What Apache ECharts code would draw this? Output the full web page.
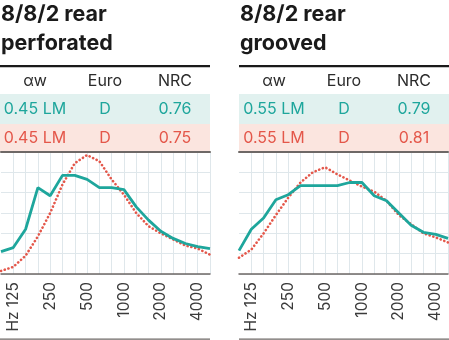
<!DOCTYPE html>
<html>
<head>
<meta charset="utf-8">
<script src="https://cdn.jsdelivr.net/npm/echarts@6/dist/echarts.min.js"></script>
<style>
  html, body { margin: 0; padding: 0; background: #ffffff; }
  #chart { width: 449px; height: 340px; }
</style>
</head>
<body>
<div id="chart"></div>
<script>
// One-third-octave band centre frequencies (Hz)
const frequencies = ['100', '125', '160', '200', '250', '315', '400', '500', '630',
  '800', '1000', '1250', '1600', '2000', '2500', '3150', '4000', '5000'];

// Octave labels shown under each plot
const tickLabels = { '125': 'Hz 125', '250': '250', '500': '500', '1000': '1000', '2000': '2000', '4000': '4000' };

// Panel titles
const panelTitles = [['8/8/2 rear', 'perforated'], ['8/8/2 rear', 'grooved']];

// Rating table
const tableHeader = ['\u03b1w', 'Euro', 'NRC'];
const perforatedTealRow = ['0.45 LM', 'D', '0.76'];
const perforatedRedRow = ['0.45 LM', 'D', '0.75'];
const groovedTealRow = ['0.55 LM', 'D', '0.79'];
const groovedRedRow = ['0.55 LM', 'D', '0.81'];

// Sound absorption coefficients per band
const perforatedTeal = [0.22, 0.26, 0.44, 0.85, 0.77, 0.97, 0.97, 0.93, 0.85,
  0.85, 0.83, 0.66, 0.53, 0.42, 0.35, 0.30, 0.27, 0.25];
const perforatedRed = [0.03, 0.07, 0.18, 0.37, 0.60, 0.88, 1.09, 1.17, 1.11,
  0.93, 0.78, 0.60, 0.47, 0.40, 0.34, 0.28, 0.25, 0.19];
const groovedTeal = [0.23, 0.44, 0.55, 0.73, 0.78, 0.87, 0.87, 0.87, 0.87,
  0.90, 0.90, 0.77, 0.72, 0.60, 0.48, 0.41, 0.39, 0.35];
const groovedRed = [0.16, 0.24, 0.40, 0.58, 0.75, 0.90, 1.00, 1.05, 0.98,
  0.92, 0.86, 0.81, 0.72, 0.58, 0.49, 0.40, 0.36, 0.31];

const TEAL = '#1ea69c';
const RED = '#e4574a';
const TEAL_BG = '#e1f1ef';
const RED_BG = '#fbe5df';
const TEXT_FONT = 'Inter, "Open Sans", sans-serif';

const panels = [
  { left: 1, width: 209, boxLeft: 0, boxWidth: 210, teal: perforatedTeal, red: perforatedRed,
    tealRow: perforatedTealRow, redRow: perforatedRedRow, title: panelTitles[0] },
  { left: 239, width: 209, boxLeft: 239, boxWidth: 210, teal: groovedTeal, red: groovedRed,
    tealRow: groovedTealRow, redRow: groovedRedRow, title: panelTitles[1] }
];

const grids = [], xAxes = [], yAxes = [], series = [], graphics = [];

panels.forEach((p, i) => {
  grids.push({ left: p.left, width: p.width, top: 152, height: 122, containLabel: false });

  // bottom category axis with rotated octave labels
  xAxes.push({
    type: 'category', gridIndex: i, data: frequencies, boundaryGap: false,
    axisLine: { lineStyle: { color: '#6e6866', width: 1.5 } },
    axisTick: { show: false },
    axisLabel: {
      interval: 0, rotate: 90, margin: 8, fontSize: 15.5, color: '#3b3b3b',
      fontFamily: TEXT_FONT,
      formatter: v => tickLabels[v] || ''
    },
    splitLine: {
      show: true, interval: (idx) => idx > 0,
      lineStyle: { color: '#dfe7eb', width: 1 }
    }
  });
  // top border of the plot
  xAxes.push({
    type: 'category', gridIndex: i, data: frequencies, position: 'top', boundaryGap: false,
    axisLine: { onZero: false, lineStyle: { color: '#6e6866', width: 2 } },
    axisTick: { show: false }, axisLabel: { show: false }, splitLine: { show: false }
  });
  yAxes.push({
    type: 'value', gridIndex: i, min: 0, max: 1.2, interval: 0.2,
    axisLine: { show: false }, axisTick: { show: false }, axisLabel: { show: false },
    splitLine: { show: true, lineStyle: { color: '#dfe7eb', width: 1 } }
  });

  series.push({
    type: 'line', xAxisIndex: i * 2, yAxisIndex: i, data: p.red, symbol: 'none', z: 3,
    lineStyle: { color: RED, width: 2.6, type: [0.1, 3.8], cap: 'round' }
  });
  series.push({
    type: 'line', xAxisIndex: i * 2, yAxisIndex: i, data: p.teal, symbol: 'none', z: 4,
    lineStyle: { color: TEAL, width: 2.8 }
  });

  // title
  graphics.push({
    type: 'text', left: p.boxLeft + 1, top: 0,
    style: { text: p.title.join('\n'), font: 'bold 21.5px ' + TEXT_FONT, fill: '#1a1a1a', lineHeight: 29 }
  });
  // heavy rule under title
  graphics.push({
    type: 'rect', shape: { x: p.boxLeft, y: 65, width: p.boxWidth, height: 2.2 },
    style: { fill: '#1a1a1a' }
  });
  // row backgrounds
  graphics.push({ type: 'rect', shape: { x: p.boxLeft, y: 94, width: p.boxWidth, height: 30 }, style: { fill: TEAL_BG } });
  graphics.push({ type: 'rect', shape: { x: p.boxLeft, y: 124, width: p.boxWidth, height: 28 }, style: { fill: RED_BG } });

  const cols = [p.boxLeft + 35, p.boxLeft + 105, p.boxLeft + 175];
  const rows = [
    { y: 81, cells: tableHeader, color: '#2b2b2b' },
    { y: 109, cells: p.tealRow, color: TEAL },
    { y: 138, cells: p.redRow, color: RED }
  ];
  rows.forEach(r => {
    r.cells.forEach((txt, c) => {
      graphics.push({
        type: 'text', x: cols[c], y: r.y,
        style: { text: txt, font: '16px ' + TEXT_FONT, fill: r.color, align: 'center', verticalAlign: 'middle' }
      });
    });
  });

  // thin rule under the frequency labels
  graphics.push({
    type: 'rect', shape: { x: p.boxLeft, y: 338.5, width: p.boxWidth, height: 1.2 },
    style: { fill: '#6e6866' }
  });
});

const chart = echarts.init(document.getElementById('chart'), null, { renderer: 'canvas' });
chart.setOption({
  animation: false,
  grid: grids,
  xAxis: xAxes,
  yAxis: yAxes,
  series: series,
  graphic: graphics
});
</script>
</body>
</html>
